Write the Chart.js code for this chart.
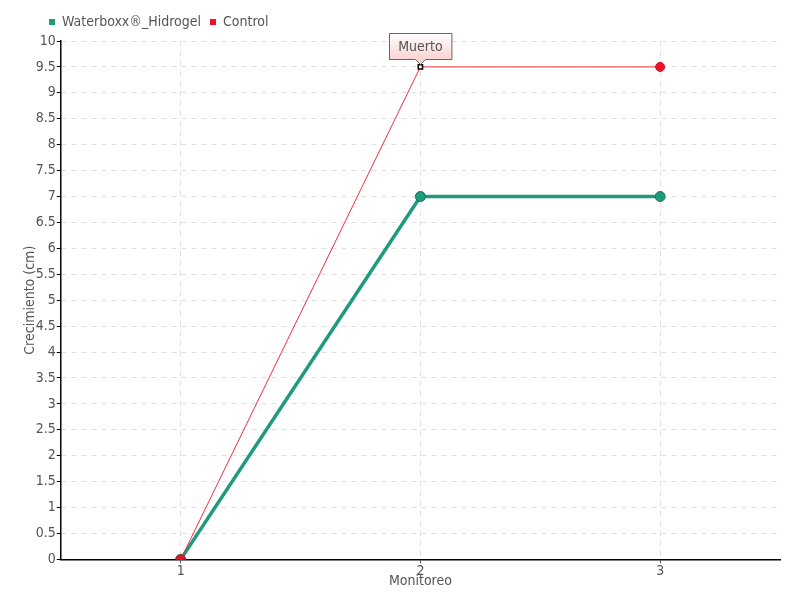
<!DOCTYPE html>
<html><head><meta charset="utf-8">
<script src="https://cdn.jsdelivr.net/npm/chart.js@4"></script>
<style>html,body{margin:0;padding:0;background:#fff}#w{width:800px;height:600px}</style>
</head><body><div id="w"><canvas id="c" width="800" height="600"></canvas></div>
<script>
const categories = [1, 2, 3];
const waterboxxValues = [0, 7, 7];
const controlValues = [0, 9.5, 9.5];
const seriesNames = ['Waterboxx®_Hidrogel', 'Control'];
const annotationText = 'Muerto';
const annotationIndex = 1;
const FONT = '"DejaVu Sans Condensed", sans-serif';
const FS = 14;

const muertoPlugin = {
  id: 'muerto',
  beforeDraw(chart) {
    if (chart.legend && !chart.legend._shifted) {
      chart.legend.left += 18;
      chart.legend.right += 18;
      chart.legend.top -= 2;
      chart.legend.bottom -= 2;
      chart.legend._shifted = true;
    }
  },
  afterDatasetsDraw(chart) {
    const ctx = chart.ctx;
    const xs = chart.scales.x, ys = chart.scales.y;
    const px = xs.getPixelForValue(categories[annotationIndex]);
    const py = ys.getPixelForValue(controlValues[annotationIndex]);
    ctx.save();
    ctx.font = FS + 'px ' + FONT;
    const tw = ctx.measureText(annotationText).width;
    const w = tw + 18, h = 26;
    const x0 = Math.round(px - w / 2) + 0.5, y0 = Math.round(py - 34) + 0.5;
    const g = ctx.createLinearGradient(0, y0, 0, y0 + h);
    g.addColorStop(0, '#ffffff');
    g.addColorStop(1, '#fbd3d3');
    ctx.beginPath();
    ctx.moveTo(x0, y0);
    ctx.lineTo(x0 + w, y0);
    ctx.lineTo(x0 + w, y0 + h);
    ctx.lineTo(px + 5, y0 + h);
    ctx.lineTo(px, y0 + h + 5);
    ctx.lineTo(px - 5, y0 + h);
    ctx.lineTo(x0, y0 + h);
    ctx.closePath();
    ctx.fillStyle = g;
    ctx.fill();
    ctx.strokeStyle = '#666';
    ctx.lineWidth = 1;
    ctx.stroke();
    ctx.fillStyle = '#555';
    ctx.textAlign = 'center';
    ctx.textBaseline = 'middle';
    ctx.fillText(annotationText, px, y0 + h / 2 + 1);
    ctx.restore();
  }
};

new Chart(document.getElementById('c'), {
  type: 'line',
  data: {
    datasets: [
      {
        label: seriesNames[0],
        data: categories.map((c, i) => ({x: c, y: waterboxxValues[i]})),
        borderColor: '#1f9a7c',
        backgroundColor: '#1f9a7c',
        pointBackgroundColor: '#1f9a7c',
        pointBorderColor: '#1a6e58',
        pointBorderWidth: 1,
        pointRadius: 5,
        borderWidth: 3.5,
        tension: 0,
        order: 1
      },
      {
        label: seriesNames[1],
        data: categories.map((c, i) => ({x: c, y: controlValues[i]})),
        borderColor: '#f0303f',
        backgroundColor: '#ee1128',
        pointBackgroundColor: categories.map((c, i) => i === annotationIndex ? '#ffffff' : '#ee1128'),
        pointBorderColor: categories.map((c, i) => i === annotationIndex ? '#000000' : '#cc1020'),
        pointBorderWidth: categories.map((c, i) => i === annotationIndex ? 1.5 : 1),
        pointStyle: categories.map((c, i) => i === annotationIndex ? 'rect' : 'circle'),
        pointRadius: categories.map((c, i) => i === annotationIndex ? 3 : 4.5),
        borderWidth: 1,
        tension: 0,
        order: 0
      }
    ]
  },
  options: {
    responsive: false,
    animation: false,
    layout: {padding: {left: 22, right: 20, top: 8, bottom: 10}},
    plugins: {
      tooltip: {enabled: false},
      legend: {
        position: 'top',
        align: 'start',
        labels: {
          usePointStyle: true,
          pointStyle: 'rect',
          boxWidth: 6,
          boxHeight: 6,
          padding: 9,
          color: '#555',
          font: {family: FONT, size: FS},
          generateLabels(chart) {
            return chart.data.datasets.map((d, i) => ({
              text: d.label, fillStyle: d.backgroundColor, strokeStyle: d.backgroundColor,
              lineWidth: 0, pointStyle: 'rect', datasetIndex: i, hidden: false, fontColor: '#555'
            }));
          }
        }
      }
    },
    scales: {
      x: {
        type: 'linear',
        min: 0.5,
        max: 3.5,
        afterBuildTicks(s) { s.ticks = categories.map(v => ({value: v})); },
        grid: {color: '#e0e0e0', drawTicks: true, tickLength: 4, tickColor: '#555', tickBorderDash: []},
        border: {color: '#000', width: 1.5, dash: [5, 5]},
        ticks: {color: '#555', font: {family: FONT, size: FS}, padding: 0},
        title: {display: true, text: 'Monitoreo', color: '#555', font: {family: FONT, size: FS}, padding: {top: -7, bottom: 0}}
      },
      y: {
        min: 0,
        max: 10,
        ticks: {stepSize: 0.5, color: '#555', font: {family: FONT, size: FS}, padding: 1,
          callback: v => String(Math.round(v * 10) / 10)},
        grid: {color: '#e0e0e0', drawTicks: true, tickLength: 4, tickColor: '#000', tickBorderDash: []},
        border: {color: '#000', width: 1.5, dash: [5, 5]},
        title: {display: true, text: 'Crecimiento (cm)', color: '#555', font: {family: FONT, size: FS}, padding: {top: 0, bottom: -4}}
      }
    }
  },
  plugins: [muertoPlugin]
});
</script>
</body></html>
